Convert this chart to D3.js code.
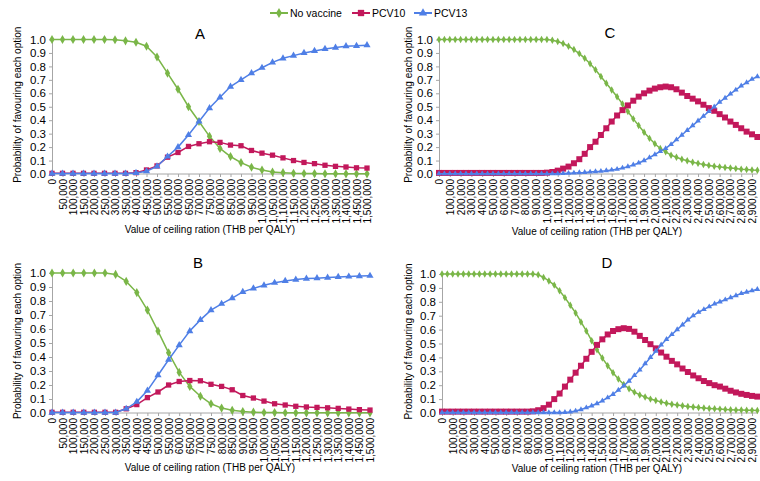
<!DOCTYPE html>
<html>
<head>
<meta charset="utf-8">
<script src="https://cdn.jsdelivr.net/npm/d3@7"></script>
<style>
  body { margin: 0; background: #fff; }
  text { font-family: "Liberation Sans", Arial, sans-serif; }
</style>
</head>
<body>
<script>
// ceiling ratios (THB per QALY)
var ceilingAB = d3.range(0, 1500001, 50000);
var ceilingCD = d3.range(0, 2950001, 50000);
var ticksAB = d3.range(0, 1500001, 50000);
var ticksCD = d3.range(0, 2900001, 100000);
var yTicks = [0, 0.1, 0.2, 0.3, 0.4, 0.5, 0.6, 0.7, 0.8, 0.9, 1.0];
var seriesNames = ["No vaccine", "PCV10", "PCV13"];

// panel A
var noVaccineA = [1, 1, 1, 1, 1, 1, 0.998, 0.99, 0.98, 0.95, 0.87, 0.75, 0.63, 0.50, 0.39, 0.28,
  0.19, 0.13, 0.085, 0.05, 0.03, 0.015, 0.01, 0.006, 0.004, 0.003, 0.002, 0.002, 0.001, 0.001, 0.001];
var pcv10A = [0.005, 0.005, 0.005, 0.005, 0.005, 0.005, 0.005, 0.005, 0.01, 0.03, 0.06, 0.125, 0.16,
  0.205, 0.225, 0.24, 0.235, 0.215, 0.21, 0.175, 0.155, 0.14, 0.12, 0.10, 0.086, 0.077, 0.065, 0.057,
  0.052, 0.046, 0.044];
var pcv13A = [0.003, 0.003, 0.003, 0.003, 0.003, 0.003, 0.003, 0.003, 0.008, 0.02, 0.057, 0.13, 0.20,
  0.29, 0.39, 0.49, 0.57, 0.65, 0.70, 0.75, 0.79, 0.83, 0.86, 0.88, 0.90, 0.915, 0.93, 0.94, 0.95,
  0.953, 0.958];

// panel B
var noVaccineB = [1, 1, 1, 1, 1, 1, 0.99, 0.94, 0.86, 0.735, 0.585, 0.43, 0.29, 0.19, 0.12, 0.066,
  0.035, 0.019, 0.01, 0.006, 0.004, 0.003, 0.002, 0.001, 0.001, 0.001, 0.001, 0.001, 0.001, 0.001, 0.001];
var pcv10B = [0.005, 0.005, 0.005, 0.005, 0.005, 0.005, 0.005, 0.03, 0.06, 0.11, 0.15, 0.20, 0.225,
  0.232, 0.23, 0.205, 0.19, 0.166, 0.125, 0.107, 0.085, 0.066, 0.057, 0.048, 0.043, 0.04, 0.037,
  0.033, 0.028, 0.024, 0.021];
var pcv13B = [0.003, 0.003, 0.003, 0.003, 0.003, 0.003, 0.003, 0.03, 0.08, 0.16, 0.27, 0.38, 0.485,
  0.585, 0.665, 0.735, 0.78, 0.82, 0.865, 0.89, 0.912, 0.93, 0.943, 0.953, 0.96, 0.963, 0.967,
  0.972, 0.975, 0.978, 0.98];

// panel C
var noVaccineC = [1, 1, 1, 1, 1, 1, 1, 1, 1, 1, 1, 1, 1, 1, 1, 1, 1, 1, 1, 1, 1,
  0.995, 0.985, 0.97, 0.95, 0.925, 0.895, 0.86, 0.82, 0.775, 0.725, 0.675, 0.625, 0.575, 0.52,
  0.465, 0.41, 0.36, 0.31, 0.265, 0.225, 0.19, 0.165, 0.14, 0.125, 0.11, 0.098, 0.088, 0.079,
  0.071, 0.064, 0.058, 0.053, 0.048, 0.044, 0.04, 0.036, 0.033, 0.03, 0.028];
var pcv10C = [0.008, 0.008, 0.008, 0.008, 0.008, 0.008, 0.008, 0.008, 0.008, 0.008, 0.008, 0.008,
  0.008, 0.008, 0.008, 0.008, 0.008, 0.008, 0.008, 0.008,
  0.01, 0.015, 0.025, 0.04, 0.055, 0.08, 0.11, 0.15, 0.2, 0.24, 0.29, 0.34, 0.39, 0.435, 0.475,
  0.51, 0.545, 0.575, 0.6, 0.62, 0.635, 0.645, 0.65, 0.645, 0.63, 0.605, 0.58, 0.56, 0.54, 0.515,
  0.49, 0.47, 0.445, 0.42, 0.39, 0.365, 0.34, 0.315, 0.295, 0.275];
var pcv13C = [0.002, 0.002, 0.002, 0.002, 0.002, 0.002, 0.002, 0.002, 0.002, 0.002, 0.002, 0.002,
  0.002, 0.002, 0.002, 0.002, 0.002, 0.002, 0.002, 0.002, 0.002, 0.002, 0.002,
  0.004, 0.006, 0.008, 0.01, 0.012, 0.015, 0.018, 0.021, 0.025, 0.03, 0.036, 0.045, 0.055, 0.068,
  0.082, 0.1, 0.122, 0.145, 0.168, 0.19, 0.22, 0.255, 0.29, 0.325, 0.36, 0.395, 0.43, 0.465, 0.5,
  0.535, 0.565, 0.595, 0.625, 0.655, 0.68, 0.705, 0.725];

// panel D
var noVaccineD = [1, 1, 1, 1, 1, 1, 1, 1, 1, 1, 1, 1, 1, 1, 1, 1, 1, 1,
  0.995, 0.975, 0.95, 0.92, 0.88, 0.83, 0.775, 0.72, 0.655, 0.59, 0.52, 0.455, 0.395, 0.34, 0.29,
  0.245, 0.205, 0.175, 0.15, 0.13, 0.115, 0.1, 0.09, 0.08, 0.07, 0.063, 0.057, 0.052, 0.047, 0.043,
  0.039, 0.036, 0.033, 0.03, 0.028, 0.026, 0.024, 0.022, 0.021, 0.02, 0.019, 0.018];
var pcv10D = [0.01, 0.01, 0.01, 0.01, 0.01, 0.01, 0.01, 0.01, 0.01, 0.01, 0.01, 0.01, 0.01, 0.01,
  0.01, 0.01, 0.01,
  0.012, 0.02, 0.035, 0.06, 0.1, 0.14, 0.19, 0.24, 0.29, 0.34, 0.39, 0.44, 0.49, 0.53, 0.565, 0.59,
  0.603, 0.61, 0.605, 0.585, 0.555, 0.525, 0.495, 0.465, 0.435, 0.405, 0.375, 0.35, 0.32, 0.295,
  0.27, 0.25, 0.23, 0.215, 0.2, 0.19, 0.175, 0.16, 0.148, 0.138, 0.13, 0.123, 0.118];
var pcv13D = [0.003, 0.003, 0.003, 0.003, 0.003, 0.003, 0.003, 0.003, 0.003, 0.003, 0.003, 0.003,
  0.003, 0.003, 0.003, 0.003, 0.003, 0.003, 0.003, 0.003, 0.003, 0.003, 0.003,
  0.005, 0.008, 0.015, 0.025, 0.038, 0.052, 0.068, 0.088, 0.11, 0.135, 0.165, 0.195, 0.23, 0.27,
  0.31, 0.355, 0.4, 0.445, 0.49, 0.53, 0.565, 0.6, 0.635, 0.67, 0.7, 0.725, 0.745, 0.765, 0.785,
  0.8, 0.815, 0.83, 0.845, 0.86, 0.87, 0.88, 0.89];

const WIDTH = 760;
const HEIGHT = 481;
var colors = ["#7ab648", "#c2185b", "#4f7fe6"];
var symbols = [d3.symbolDiamond, d3.symbolSquare, d3.symbolTriangle];
var axisGray = "#a6a6a6";

var svg = d3.select("body")
    .append("svg")
    .attr("width", WIDTH)
    .attr("height", HEIGHT);

// layout of the four panels
var panels = [
  {name: "A", x: ceilingAB, ticks: ticksAB, series: [noVaccineA, pcv10A, pcv13A],
   left: 52, right: 367, top: 39.5, bottom: 174, lx: 200, ly: 39, tx: 210, ty: 233, ytx: 17, sym: [24, 28, 22]},
  {name: "B", x: ceilingAB, ticks: ticksAB, series: [noVaccineB, pcv10B, pcv13B],
   left: 52, right: 370, top: 273, bottom: 413, lx: 198, ly: 268, tx: 210, ty: 471, ytx: 17, sym: [24, 28, 22]},
  {name: "C", x: ceilingCD, ticks: ticksCD, series: [noVaccineC, pcv10C, pcv13C],
   left: 439, right: 752, top: 39.5, bottom: 174, lx: 610, ly: 38, tx: 597, ty: 235, ytx: 408, sym: [16, 36, 14]},
  {name: "D", x: ceilingCD, ticks: ticksCD, series: [noVaccineD, pcv10D, pcv13D],
   left: 442, right: 752, top: 274, bottom: 413, lx: 607, ly: 268, tx: 597, ty: 472, ytx: 408, sym: [16, 36, 14]}
];

panels.forEach(function(p) {
  var xMax = p.ticks[p.ticks.length - 1];
  var xScale = d3.scaleLinear().domain([0, xMax]).range([p.left, p.right]);
  var yScale = d3.scaleLinear().domain([0, 1]).range([p.bottom, p.top]);
  var g = svg.append("g");

  // y axis
  var yAxis = g.append("g")
      .attr("transform", `translate(${p.left},0)`)
      .call(d3.axisLeft(yScale).tickValues(yTicks).tickFormat(d3.format(".1f"))
        .tickSize(3).tickSizeOuter(0).tickPadding(3));
  yAxis.selectAll("path, line").attr("stroke", axisGray);
  yAxis.selectAll("text").attr("font-size", "11.5px").attr("fill", "#000")
      .attr("font-family", "Liberation Sans, Arial, sans-serif");

  // x axis
  var xAxis = g.append("g")
      .attr("transform", `translate(0,${p.bottom})`)
      .call(d3.axisBottom(xScale).tickValues(p.ticks).tickFormat(d3.format(","))
        .tickSize(3).tickSizeOuter(0));
  xAxis.select("path").attr("d", `M${p.left},0H${Math.min(WIDTH, xScale(p.x[p.x.length - 1]))}`);
  xAxis.selectAll("path, line").attr("stroke", axisGray);
  xAxis.selectAll("text")
      .attr("font-size", "10px").attr("fill", "#000")
      .attr("font-family", "Liberation Sans, Arial, sans-serif")
      .attr("transform", "rotate(-90)")
      .attr("x", -5).attr("y", 0).attr("dy", "0.35em")
      .attr("text-anchor", "end");

  // titles
  g.append("text")
      .attr("transform", `translate(${p.ytx},${(p.top + p.bottom) / 2 - 2}) rotate(-90)`)
      .attr("text-anchor", "middle").attr("dy", "0.35em")
      .attr("font-size", "10px").attr("fill", "#000")
      .text("Probability of favouring each option");
  g.append("text")
      .attr("x", p.tx).attr("y", p.ty)
      .attr("text-anchor", "middle")
      .attr("font-size", "10px").attr("fill", "#000")
      .text("Value of ceiling ration (THB per QALY)");
  g.append("text")
      .attr("x", p.lx).attr("y", p.ly)
      .attr("text-anchor", "middle")
      .attr("font-size", "15px").attr("fill", "#000")
      .text(p.name);

  // lines and markers
  p.series.forEach(function(vals, i) {
    var pts = vals.map((v, k) => [p.x[k], v]);
    g.append("path")
        .datum(pts)
        .attr("fill", "none")
        .attr("stroke", colors[i])
        .attr("stroke-width", 1.5)
        .attr("d", d3.line().x(d => xScale(d[0])).y(d => yScale(d[1])));
    g.selectAll(null)
        .data(pts)
        .enter()
        .append("path")
        .attr("transform", d => `translate(${xScale(d[0])},${yScale(d[1])})`)
        .attr("d", d3.symbol().type(symbols[i]).size(p.sym[i]))
        .attr("fill", colors[i]);
  });
});

// legend
var legendX = [270, 352, 414];
var legend = svg.append("g");
seriesNames.forEach(function(name, i) {
  var lg = legend.append("g").attr("transform", `translate(${legendX[i]},13)`);
  lg.append("line").attr("x1", 0).attr("x2", 18).attr("stroke", colors[i]).attr("stroke-width", 2);
  lg.append("path").attr("transform", "translate(9,0)")
      .attr("d", d3.symbol().type(symbols[i]).size(i === 1 ? 40 : 30))
      .attr("fill", colors[i]);
  lg.append("text").attr("x", 20).attr("dy", "0.35em")
      .attr("font-size", "10.5px").attr("fill", "#000")
      .text(name);
});
</script>
</body>
</html>
